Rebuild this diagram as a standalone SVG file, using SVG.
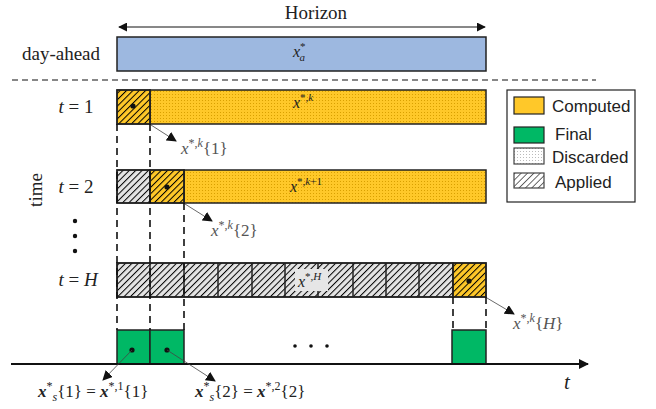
<svg xmlns="http://www.w3.org/2000/svg" width="656" height="409" viewBox="0 0 656 409">
<defs>
<style>
.m{font-family:"Liberation Serif",serif;fill:#222}
.lbl{font-family:"Liberation Serif",serif;fill:#555;font-size:17px}
.i{font-style:italic}
.leg{font-family:"Liberation Sans","Open Sans",sans-serif;font-size:17px;fill:#222}
.cell{stroke:#222;stroke-width:1.5}
.dash{stroke:#111;stroke-width:1.6;stroke-dasharray:7,5;fill:none}
.thin{stroke:#444;stroke-width:0.8;fill:none;marker-end:url(#ah)}
</style>
<pattern id="hatch" width="4.5" height="4.5" patternUnits="userSpaceOnUse" patternTransform="rotate(45)">
<line x1="0" y1="0" x2="0" y2="4.5" stroke="#000" stroke-width="2"/>
</pattern>
<pattern id="lhatch" width="4.5" height="4.5" patternUnits="userSpaceOnUse" patternTransform="rotate(45)">
<line x1="0" y1="0" x2="0" y2="4.5" stroke="#444" stroke-width="1.6"/>
</pattern>
<pattern id="dots" width="3" height="3" patternUnits="userSpaceOnUse">
<rect width="3" height="3" fill="#FFC829"/>
<rect x="1" y="1" width="1" height="1" fill="#D9A000"/>
</pattern>
<pattern id="ldots" width="3" height="3" patternUnits="userSpaceOnUse">
<rect width="3" height="3" fill="#fff"/>
<rect x="1" y="1" width="1" height="1" fill="#bbb"/>
</pattern>
<marker id="ah" viewBox="0 0 10 10" refX="9" refY="5" markerWidth="10" markerHeight="10" markerUnits="userSpaceOnUse" orient="auto">
<path d="M0,0 L10,5 L0,10 z" fill="#111"/>
</marker>
<marker id="ah2" viewBox="0 0 10 10" refX="9" refY="5" markerWidth="9" markerHeight="9" markerUnits="userSpaceOnUse" orient="auto-start-reverse">
<path d="M0,0 L10,5 L0,10 z" fill="#111"/>
</marker>
</defs>
<rect width="656" height="409" fill="#fff"/>

<g id="horizon">
<line x1="119" y1="27" x2="485" y2="27" stroke="#111" stroke-width="1" marker-start="url(#ah2)" marker-end="url(#ah2)"/>
<text class="m" x="316" y="19" font-size="19" text-anchor="middle">Horizon</text>
</g>

<g id="day-ahead">
<text class="m" x="61" y="60" font-size="19" text-anchor="middle">day-ahead</text>
<rect x="117" y="37" width="369" height="34" fill="#9DB8E0" class="cell"/>
<text class="m" x="293" y="57" font-size="16" fill="#333"><tspan class="i">x</tspan><tspan font-size="11" dy="-7">*</tspan><tspan class="i" font-size="11" dx="-6" dy="11">a</tspan></text>
</g>

<line x1="12" y1="80" x2="596" y2="80" stroke="#111" stroke-width="1.2" stroke-dasharray="6,4"/>

<g id="labels">
<text class="m" x="76" y="113" font-size="19" text-anchor="middle"><tspan class="i">t</tspan> = 1</text>
<text class="m" x="76" y="193" font-size="19" text-anchor="middle"><tspan class="i">t</tspan> = 2</text>
<text class="m" x="78" y="286" font-size="19" text-anchor="middle"><tspan class="i">t</tspan> = <tspan class="i">H</tspan></text>
<text class="m" x="42" y="190" font-size="19" text-anchor="middle" transform="rotate(-90 42 190)">time</text>
<circle cx="75" cy="221" r="2.2" fill="#111"/>
<circle cx="75" cy="236" r="2.2" fill="#111"/>
<circle cx="75" cy="251" r="2.2" fill="#111"/>
</g>

<g id="row-t1">
<rect x="150" y="90" width="336" height="34" fill="url(#dots)" class="cell"/>
<rect x="117" y="90" width="33" height="34" fill="#FFC829" class="cell"/>
<rect x="117" y="90" width="33" height="34" fill="url(#hatch)" class="cell"/>
<circle cx="133" cy="106" r="2.6" fill="#111"/>
<text class="m" x="293" y="108" font-size="16" fill="#666"><tspan class="i">x</tspan><tspan font-size="11" dy="-7">*,<tspan class="i">k</tspan></tspan></text>
</g>

<g id="row-t2">
<rect x="184" y="170" width="302" height="33" fill="url(#dots)" class="cell"/>
<rect x="117" y="170" width="33" height="33" fill="#e4e4e4" class="cell"/>
<rect x="117" y="170" width="33" height="33" fill="url(#hatch)" class="cell"/>
<rect x="150" y="170" width="34" height="33" fill="#FFC829" class="cell"/>
<rect x="150" y="170" width="34" height="33" fill="url(#hatch)" class="cell"/>
<circle cx="167" cy="187" r="2.6" fill="#111"/>
<text class="m" x="290" y="192" font-size="16" fill="#666"><tspan class="i">x</tspan><tspan font-size="11" dy="-7">*,<tspan class="i">k</tspan>+1</tspan></text>
</g>

<g id="row-tH">
<rect x="117" y="263" width="336" height="34" fill="#e4e4e4" class="cell"/>
<rect x="453" y="263" width="33" height="34" fill="#FFC829" class="cell"/>
<rect x="117" y="263" width="369" height="34" fill="url(#hatch)" class="cell"/>
<g stroke="#222" stroke-width="1.5">
<line x1="150" y1="263" x2="150" y2="297"/><line x1="184" y1="263" x2="184" y2="297"/>
<line x1="218" y1="263" x2="218" y2="297"/><line x1="252" y1="263" x2="252" y2="297"/>
<line x1="285" y1="263" x2="285" y2="297"/><line x1="318" y1="263" x2="318" y2="297"/>
<line x1="353" y1="263" x2="353" y2="297"/><line x1="386" y1="263" x2="386" y2="297"/>
<line x1="419" y1="263" x2="419" y2="297"/><line x1="453" y1="263" x2="453" y2="297"/>
</g>
<rect x="295" y="269" width="33" height="22" fill="#e6e6e6"/>
<text class="m" x="298" y="287" font-size="16" fill="#666"><tspan class="i">x</tspan><tspan font-size="11" dy="-7">*,<tspan class="i">H</tspan></tspan></text>
<circle cx="469" cy="281" r="2.6" fill="#111"/>
</g>

<g id="final">
<rect x="117" y="330" width="33" height="34" fill="#00B865" class="cell"/>
<rect x="150" y="330" width="34" height="34" fill="#00B865" class="cell"/>
<rect x="452" y="330" width="34" height="34" fill="#00B865" class="cell"/>
<circle cx="132" cy="350" r="2.6" fill="#111"/>
<circle cx="167" cy="350" r="2.6" fill="#111"/>
<circle cx="295" cy="346" r="1.8" fill="#111"/>
<circle cx="311" cy="346" r="1.8" fill="#111"/>
<circle cx="327" cy="346" r="1.8" fill="#111"/>
</g>

<g id="axis">
<line x1="11" y1="364" x2="588" y2="364" stroke="#111" stroke-width="2.2" marker-end="url(#ah)"/>
<text class="m i" x="564" y="389" font-size="21">t</text>
</g>

<g id="connectors">
<line class="dash" x1="117" y1="124" x2="117" y2="330"/>
<line class="dash" x1="150" y1="124" x2="150" y2="330"/>
<line class="dash" x1="184" y1="203" x2="184" y2="330"/>
<line class="dash" x1="453" y1="297" x2="453" y2="330"/>
<line class="dash" x1="486" y1="297" x2="486" y2="330"/>
<line class="thin" x1="151" y1="125" x2="176" y2="141"/>
<line class="thin" x1="185" y1="204" x2="212" y2="221"/>
<line class="thin" x1="487" y1="298" x2="514" y2="314"/>
<line class="thin" x1="132" y1="350" x2="103" y2="380"/>
<line class="thin" x1="167" y1="350" x2="215" y2="381"/>
</g>

<g id="annotations">
<text class="lbl" x="181" y="154"><tspan class="i">x</tspan><tspan font-size="12" dy="-7">*,<tspan class="i">k</tspan></tspan><tspan dy="7">{1}</tspan></text>
<text class="lbl" x="211" y="236"><tspan class="i">x</tspan><tspan font-size="12" dy="-7">*,<tspan class="i">k</tspan></tspan><tspan dy="7">{2}</tspan></text>
<text class="lbl" x="513" y="329"><tspan class="i">x</tspan><tspan font-size="12" dy="-7">*,<tspan class="i">k</tspan></tspan><tspan dy="7">{</tspan><tspan class="i">H</tspan>}</text>
<text class="m" x="38" y="397" font-size="17" fill="#333"><tspan class="i" font-weight="bold">x</tspan><tspan font-size="12" dy="-7">*</tspan><tspan class="i" font-size="12" dy="11">s</tspan><tspan dy="-4">{1} = </tspan><tspan class="i" font-weight="bold">x</tspan><tspan font-size="12" dy="-7">*,1</tspan><tspan dy="7">{1}</tspan></text>
<text class="m" x="195" y="397" font-size="17" fill="#333"><tspan class="i" font-weight="bold">x</tspan><tspan font-size="12" dy="-7">*</tspan><tspan class="i" font-size="12" dy="11">s</tspan><tspan dy="-4">{2} = </tspan><tspan class="i" font-weight="bold">x</tspan><tspan font-size="12" dy="-7">*,2</tspan><tspan dy="7">{2}</tspan></text>
</g>

<g id="legend">
<rect x="507" y="90" width="128" height="112" fill="#fff" stroke="#222" stroke-width="1.2"/>
<rect x="514" y="97" width="30" height="17" fill="#FFC829" stroke="#222" stroke-width="1.2"/>
<text class="leg" x="552" y="112">Computed</text>
<rect x="514" y="127" width="30" height="16" fill="#00B865" stroke="#222" stroke-width="1.2"/>
<text class="leg" x="555" y="140">Final</text>
<rect x="514" y="148" width="30" height="16" fill="url(#ldots)" stroke="#444" stroke-width="1.2"/>
<text class="leg" x="552" y="163">Discarded</text>
<rect x="514" y="173" width="30" height="15" fill="#fff"/>
<rect x="514" y="173" width="30" height="15" fill="url(#lhatch)" stroke="#444" stroke-width="1.2"/>
<text class="leg" x="555" y="188">Applied</text>
</g>
</svg>
